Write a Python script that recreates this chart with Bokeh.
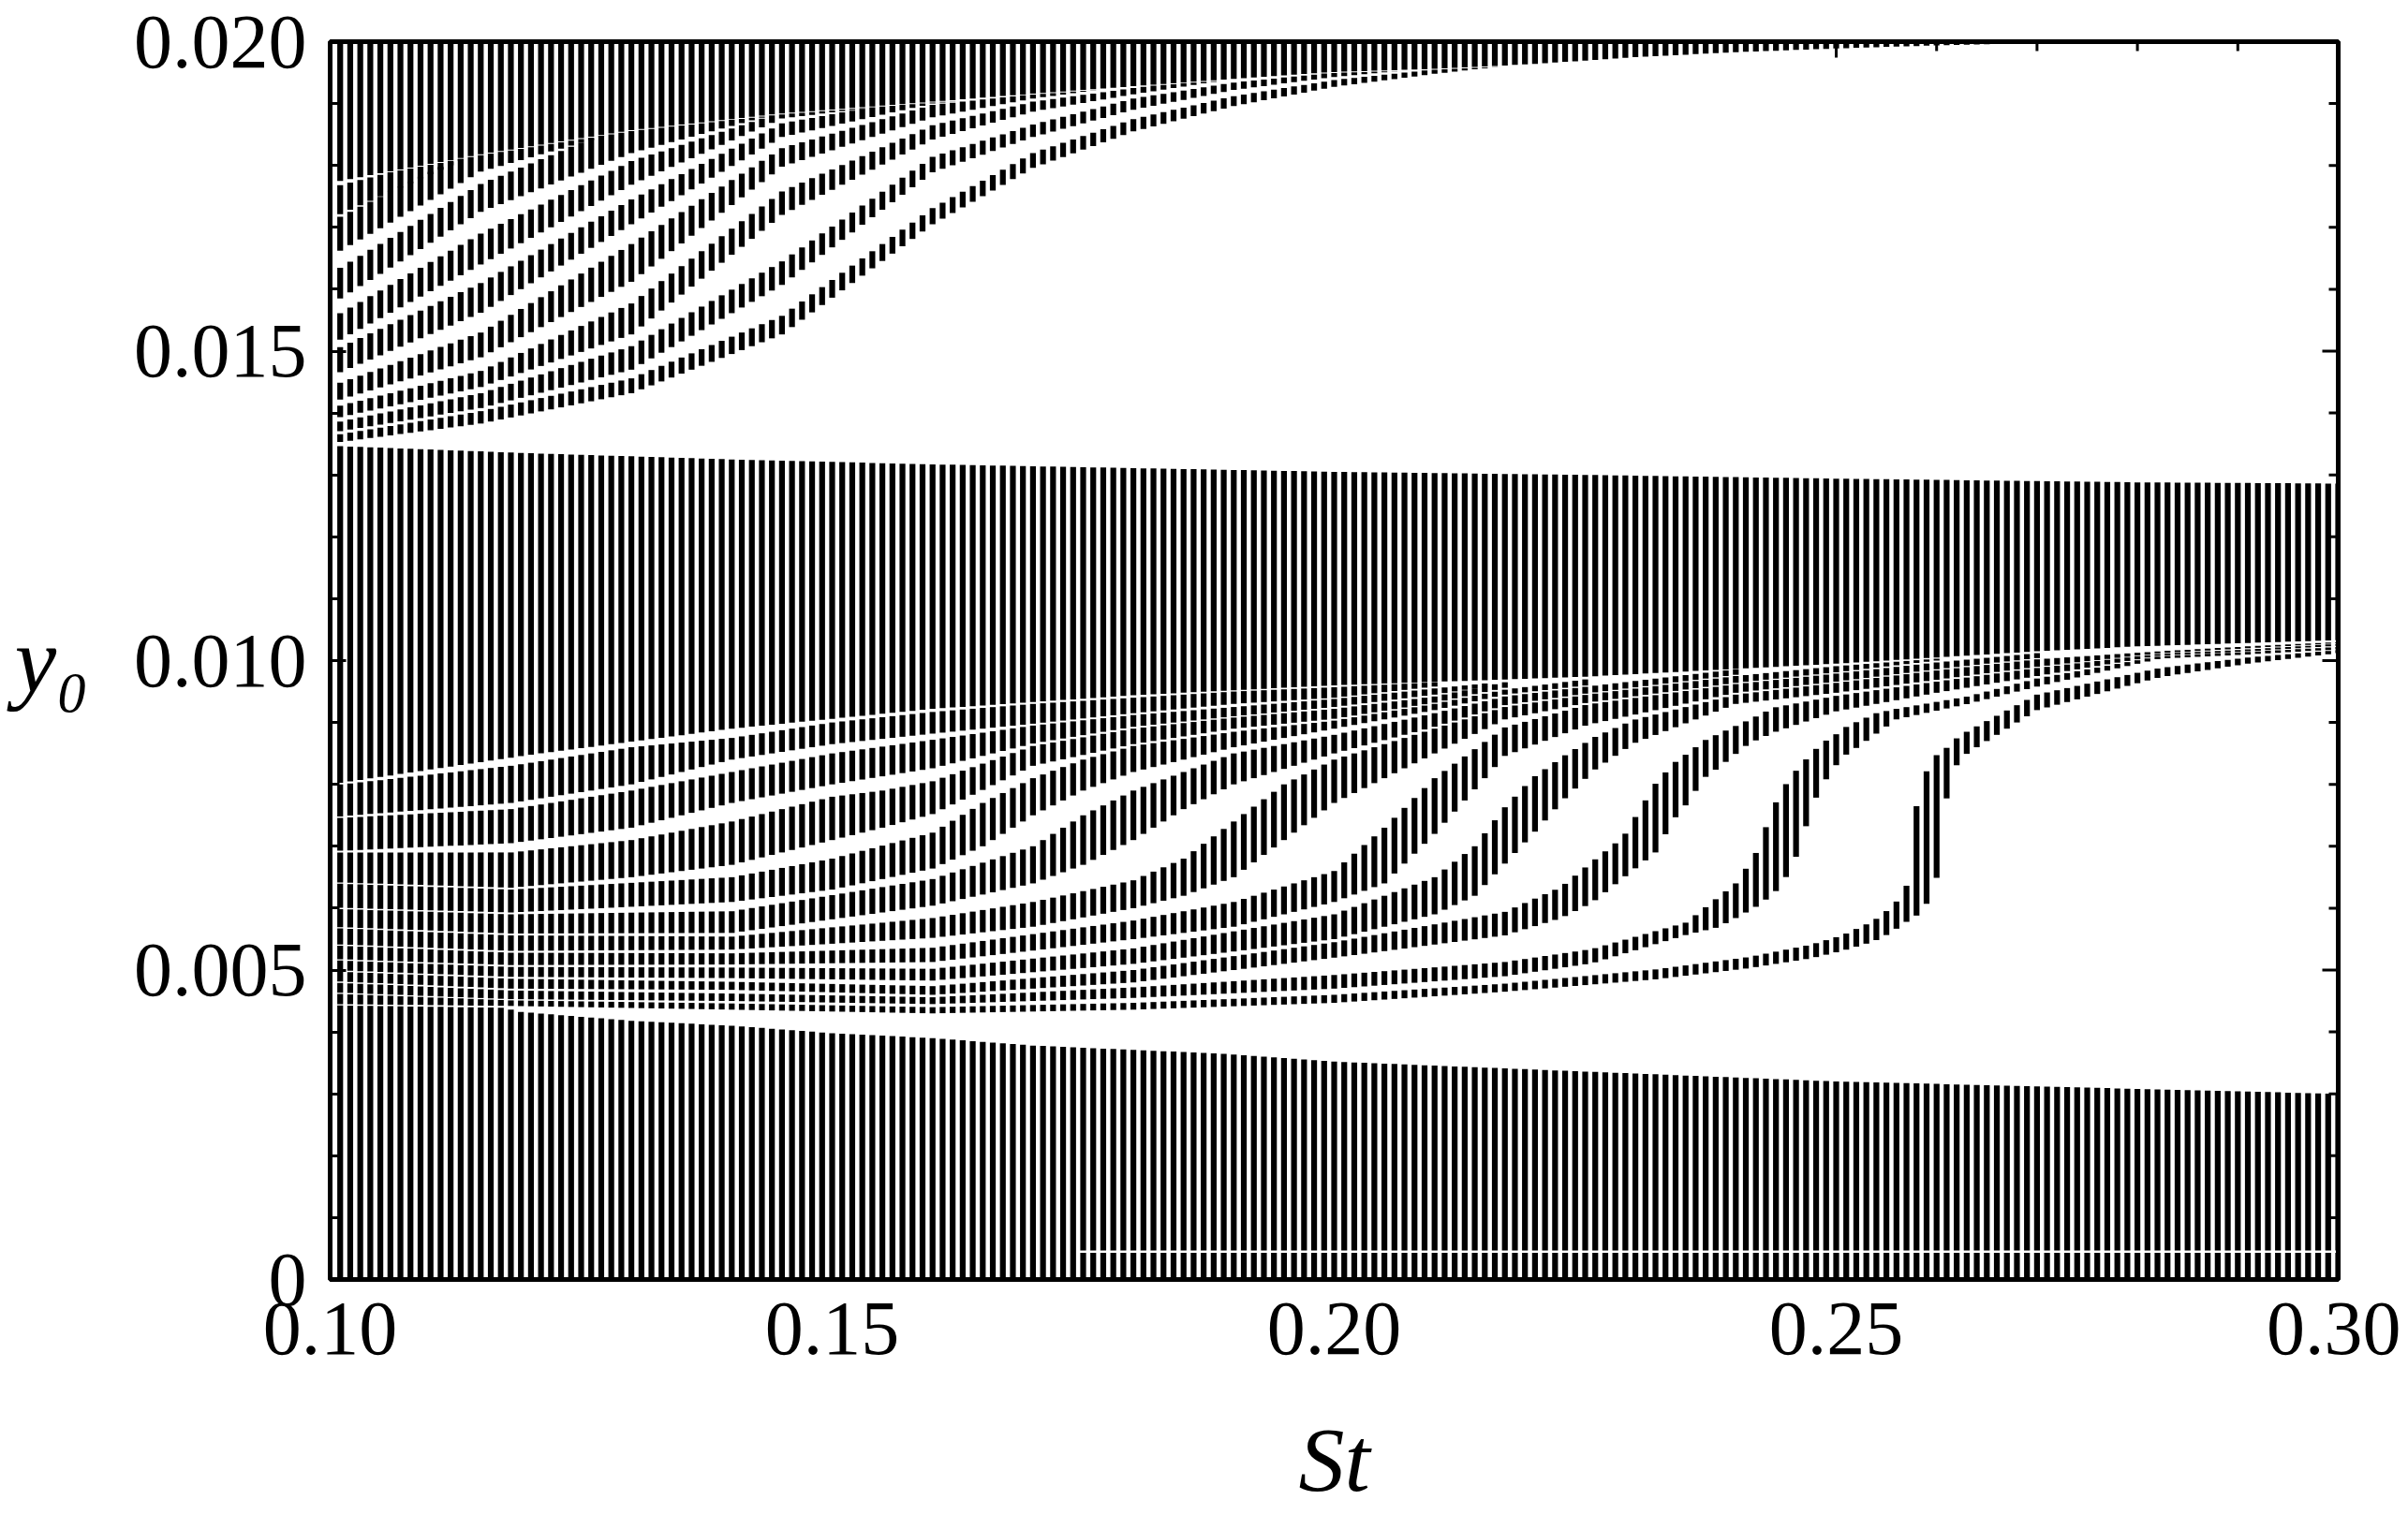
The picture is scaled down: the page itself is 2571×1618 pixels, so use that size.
import numpy as np
from bokeh.plotting import figure
from bokeh.models import Range1d, FixedTicker, LinearAxis, ColumnDataSource
from bokeh.embed import file_html
from bokeh.resources import INLINE

# ---------------- axis ticks ----------------
X_TICKS = [0.10, 0.15, 0.20, 0.25, 0.30]
X_TICK_LABELS = ["0.10", "0.15", "0.20", "0.25", "0.30"]
Y_TICKS = [0.0, 0.005, 0.010, 0.015, 0.020]
Y_TICK_LABELS = ["0", "0.005", "0.010", "0.015", "0.020"]
X_MINOR = [0.11, 0.12, 0.13, 0.14, 0.16, 0.17, 0.18, 0.19, 0.21, 0.22, 0.23, 0.24, 0.26, 0.27, 0.28, 0.29]
Y_MINOR = [0.001, 0.002, 0.003, 0.004, 0.006, 0.007, 0.008, 0.009, 0.011, 0.012, 0.013, 0.014,
           0.016, 0.017, 0.018, 0.019]

# St values of the computed columns
ST_FIRST, ST_LAST = 0.101, 0.300

# ---------------- top region (y0 > 0.0135) ----------------
TB_st = [0.100, 0.115, 0.130, 0.145, 0.160, 0.170, 0.180, 0.190, 0.200, 0.210, 0.220, 0.230, 0.240, 0.250, 0.260, 0.265, 0.2655]
TB_lo = [0.01772, 0.01818, 0.01857, 0.01884, 0.01903, 0.01916, 0.01928, 0.01940, 0.01951, 0.01956, 0.01964, 0.01975, 0.01983, 0.01989, 0.01994, 0.01996, 0.01997]

T1_st = [0.100, 0.115, 0.130, 0.145, 0.160, 0.170, 0.180, 0.190, 0.200, 0.210, 0.220]
T1_lo = [0.01351, 0.01383, 0.01432, 0.01527, 0.01705, 0.01796, 0.01855, 0.01896, 0.01927, 0.01948, 0.01966]
T1_hi = [0.01363, 0.01403, 0.01456, 0.01557, 0.01731, 0.01820, 0.01875, 0.01912, 0.01938, 0.01955, 0.01970]

T2_st = [0.100, 0.115, 0.130, 0.145, 0.160, 0.170, 0.180, 0.190, 0.200, 0.210]
T2_lo = [0.01368, 0.01408, 0.01470, 0.01607, 0.01789, 0.01846, 0.01890, 0.01922, 0.01943, 0.01958]
T2_hi = [0.01383, 0.01432, 0.01508, 0.01645, 0.01814, 0.01866, 0.01908, 0.01934, 0.01950, 0.01962]

T3_st = [0.100, 0.115, 0.130, 0.145, 0.160, 0.170, 0.180, 0.190, 0.200]
T3_lo = [0.01390, 0.01442, 0.01527, 0.01720, 0.01842, 0.01887, 0.01915, 0.01940, 0.01953]
T3_hi = [0.01408, 0.01468, 0.01577, 0.01758, 0.01865, 0.01903, 0.01925, 0.01946, 0.01956]

T4_st = [0.100, 0.115, 0.130, 0.145, 0.160, 0.170, 0.180]
T4_lo = [0.01417, 0.01490, 0.01612, 0.01798, 0.01878, 0.01908, 0.01930]
T4_hi = [0.01443, 0.01530, 0.01673, 0.01828, 0.01898, 0.01915, 0.01934]

T5_st = [0.100, 0.115, 0.130, 0.145, 0.160, 0.170]
T5_lo = [0.01459, 0.01562, 0.01705, 0.01846, 0.01900, 0.01918]
T5_hi = [0.01499, 0.01610, 0.01745, 0.01868, 0.01912, 0.01922]

T6_st = [0.100, 0.115, 0.130, 0.145, 0.160]
T6_lo = [0.01510, 0.01640, 0.01769, 0.01876, 0.01905]
T6_hi = [0.01552, 0.01690, 0.01807, 0.01886, 0.01910]

T7_st = [0.100, 0.115, 0.130, 0.145]
T7_lo = [0.01575, 0.01725, 0.01820, 0.01886]
T7_hi = [0.01625, 0.01770, 0.01870, 0.01890]

T8_st = [0.100, 0.115, 0.130]
T8_lo = [0.01653, 0.01790, 0.01860]
T8_hi = [0.01709, 0.01830, 0.01864]

T9_st = [0.100, 0.115]
T9_lo = [0.01714, 0.01822]
T9_hi = [0.01764, 0.01826]

# ---------------- middle region ----------------
M0_st = [0.100, 0.120, 0.140, 0.160, 0.180, 0.200, 0.225, 0.250, 0.270, 0.280, 0.300]
M0_lo = [0.00800, 0.00848, 0.00890, 0.00922, 0.00944, 0.00960, 0.00974, 0.00995, 0.01015, 0.01023, 0.01033]
M0_hi = [0.01347, 0.01335, 0.01325, 0.01317, 0.01311, 0.01305, 0.01300, 0.01294, 0.01290, 0.01288, 0.01286]

M1_st = [0.100, 0.118, 0.130, 0.140, 0.150, 0.160, 0.170, 0.180, 0.190, 0.200, 0.210]
M1_lo = [0.00747, 0.00770, 0.00800, 0.00840, 0.00865, 0.00882, 0.00898, 0.00915, 0.00930, 0.00940, 0.00958]
M1_hi = [0.00798, 0.00830, 0.00860, 0.00875, 0.00900, 0.00917, 0.00930, 0.00940, 0.00950, 0.00957, 0.00965]

M2_st = [0.100, 0.118, 0.130, 0.140, 0.150, 0.160, 0.170, 0.180, 0.190, 0.200, 0.210, 0.215]
M2_lo = [0.00692, 0.00705, 0.00730, 0.00770, 0.00800, 0.00826, 0.00866, 0.00893, 0.00910, 0.00925, 0.00945, 0.00958]
M2_hi = [0.00745, 0.00760, 0.00790, 0.00820, 0.00850, 0.00872, 0.00895, 0.00912, 0.00925, 0.00938, 0.00955, 0.00963]

M3_st = [0.100, 0.118, 0.130, 0.140, 0.150, 0.155, 0.160, 0.170, 0.180, 0.190, 0.200, 0.210, 0.217]
M3_lo = [0.00642, 0.00633, 0.00650, 0.00670, 0.00710, 0.00730, 0.00752, 0.00830, 0.00865, 0.00890, 0.00906, 0.00932, 0.00956]
M3_hi = [0.00690, 0.00690, 0.00710, 0.00740, 0.00780, 0.00790, 0.00805, 0.00862, 0.00890, 0.00908, 0.00922, 0.00942, 0.00965]

M4_st = [0.100, 0.118, 0.140, 0.150, 0.160, 0.165, 0.170, 0.175, 0.180, 0.190, 0.200, 0.210, 0.217, 0.2252]
M4_lo = [0.00601, 0.00593, 0.00610, 0.00630, 0.00664, 0.00700, 0.00750, 0.00790, 0.00820, 0.00860, 0.00890, 0.00920, 0.00945, 0.00960]
M4_hi = [0.00640, 0.00630, 0.00650, 0.00680, 0.00722, 0.00770, 0.00810, 0.00840, 0.00862, 0.00885, 0.00903, 0.00930, 0.00953, 0.00970]

M5_st = [0.100, 0.118, 0.140, 0.160, 0.170, 0.175, 0.180, 0.185, 0.190, 0.200, 0.210, 0.217, 0.2252, 0.240]
M5_lo = [0.00570, 0.00559, 0.00560, 0.00604, 0.00640, 0.00670, 0.00710, 0.00760, 0.00800, 0.00850, 0.00893, 0.00928, 0.00947, 0.00977]
M5_hi = [0.00599, 0.00590, 0.00595, 0.00647, 0.00700, 0.00750, 0.00790, 0.00820, 0.00850, 0.00880, 0.00915, 0.00942, 0.00958, 0.00986]

M6_st = [0.100, 0.118, 0.140, 0.160, 0.170, 0.180, 0.185, 0.190, 0.195, 0.200, 0.210, 0.217, 0.2252, 0.240, 0.250, 0.260]
M6_lo = [0.00542, 0.00531, 0.00533, 0.00552, 0.00570, 0.00600, 0.00620, 0.00650, 0.00710, 0.00770, 0.00850, 0.00905, 0.00932, 0.00964, 0.00981, 0.01000]
M6_hi = [0.00568, 0.00556, 0.00554, 0.00584, 0.00610, 0.00645, 0.00680, 0.00740, 0.00800, 0.00840, 0.00890, 0.00925, 0.00945, 0.00975, 0.00991, 0.01003]

M7_st = [0.100, 0.118, 0.140, 0.160, 0.180, 0.190, 0.200, 0.205, 0.210, 0.217, 0.2252, 0.240, 0.250, 0.260, 0.270]
M7_lo = [0.00518, 0.00508, 0.00509, 0.00513, 0.00550, 0.00570, 0.00610, 0.00640, 0.00720, 0.00846, 0.00896, 0.00948, 0.00966, 0.00986, 0.01004]
M7_hi = [0.00540, 0.00528, 0.00527, 0.00536, 0.00580, 0.00610, 0.00660, 0.00730, 0.00810, 0.00892, 0.00929, 0.00962, 0.00979, 0.00997, 0.01012]

M8_st = [0.100, 0.118, 0.140, 0.160, 0.180, 0.200, 0.210, 0.214, 0.217, 0.2198, 0.2229, 0.2259, 0.2298, 0.240, 0.250, 0.260, 0.270, 0.2822, 0.291, 0.300]
M8_lo = [0.00500, 0.00489, 0.00487, 0.00483, 0.00510, 0.00550, 0.00590, 0.00620, 0.00672, 0.00720, 0.00776, 0.00823, 0.00866, 0.00930, 0.00948, 0.00969, 0.00990, 0.01012, 0.01020, 0.01028]
M8_hi = [0.00516, 0.00505, 0.00504, 0.00502, 0.00535, 0.00590, 0.00650, 0.00700, 0.00763, 0.00811, 0.00846, 0.00876, 0.00904, 0.00945, 0.00964, 0.00984, 0.01002, 0.01015, 0.01023, 0.01030]

M9_st = [0.100, 0.118, 0.140, 0.160, 0.180, 0.200, 0.217, 0.2226, 0.2257, 0.2288, 0.2320, 0.2338, 0.2351, 0.2369, 0.2382, 0.2413, 0.2438, 0.250, 0.260, 0.270, 0.2822, 0.291, 0.300]
M9_lo = [0.00482, 0.00470, 0.00468, 0.00460, 0.00480, 0.00520, 0.00556, 0.00584, 0.00609, 0.00649, 0.00690, 0.00743, 0.00768, 0.00811, 0.00826, 0.00866, 0.00884, 0.00918, 0.00948, 0.00975, 0.01008, 0.01015, 0.01024]
M9_hi = [0.00498, 0.00486, 0.00481, 0.00474, 0.00500, 0.00545, 0.00594, 0.00634, 0.00675, 0.00715, 0.00801, 0.00834, 0.00849, 0.00871, 0.00881, 0.00904, 0.00924, 0.00943, 0.00966, 0.00988, 0.01011, 0.01018, 0.01027]

M10_st = [0.100, 0.118, 0.140, 0.160, 0.180, 0.200, 0.217, 0.2257, 0.2351, 0.2382, 0.2400, 0.2419, 0.2431, 0.2441, 0.2452, 0.2462, 0.2472, 0.2481, 0.2491, 0.2500, 0.2509, 0.2522, 0.2540, 0.2560, 0.2631, 0.270, 0.2822, 0.291, 0.300]
M10_lo = [0.00464, 0.00453, 0.00450, 0.00445, 0.00455, 0.00470, 0.00490, 0.00511, 0.00557, 0.00569, 0.00584, 0.00601, 0.00615, 0.00629, 0.00655, 0.00690, 0.00743, 0.00783, 0.00811, 0.00831, 0.00847, 0.00861, 0.00882, 0.00905, 0.00930, 0.00958, 0.01003, 0.01010, 0.01018]
M10_hi = [0.00480, 0.00467, 0.00462, 0.00456, 0.00472, 0.00492, 0.00513, 0.00534, 0.00577, 0.00617, 0.00640, 0.00685, 0.00735, 0.00775, 0.00806, 0.00826, 0.00844, 0.00859, 0.00872, 0.00881, 0.00892, 0.00902, 0.00915, 0.00922, 0.00942, 0.00971, 0.01007, 0.01014, 0.01022]

M11_st = [0.100, 0.118, 0.140, 0.160, 0.180, 0.200, 0.217, 0.232, 0.2413, 0.2475, 0.2506, 0.2537, 0.2553, 0.2562, 0.2571, 0.2576, 0.2581, 0.2590, 0.2599, 0.2606, 0.2612, 0.2621, 0.2631, 0.270, 0.2822, 0.291, 0.300]
M11_lo = [0.00445, 0.00442, 0.00436, 0.00430, 0.00436, 0.00447, 0.00465, 0.00485, 0.00503, 0.00519, 0.00531, 0.00546, 0.00559, 0.00569, 0.00579, 0.00584, 0.00589, 0.00607, 0.00637, 0.00720, 0.00806, 0.00834, 0.00851, 0.00920, 0.00973, 0.00995, 0.01012]
M11_hi = [0.00462, 0.00451, 0.00446, 0.00440, 0.00447, 0.00460, 0.00478, 0.00501, 0.00521, 0.00541, 0.00556, 0.00579, 0.00599, 0.00614, 0.00639, 0.00720, 0.00776, 0.00821, 0.00846, 0.00855, 0.00861, 0.00876, 0.00886, 0.00945, 0.00988, 0.01005, 0.01017]

# ---------------- bottom band ----------------
BB_st = [0.100, 0.1175, 0.1185, 0.130, 0.140, 0.150, 0.160, 0.170, 0.1886, 0.200, 0.250, 0.300]
BB_hi = [0.00443, 0.00439, 0.00433, 0.00418, 0.00410, 0.00398, 0.00390, 0.00378, 0.00365, 0.00352, 0.00320, 0.00300]
BB_GAP_START = 0.175          # thin white line inside the bottom band
BB_GAP_LO, BB_GAP_HI = 0.00043, 0.00047

# ---------------- build the columns ----------------
st_cols = np.round(np.arange(int(round(ST_FIRST * 1000)), int(round(ST_LAST * 1000)) + 1) / 1000.0, 3)


def ip(st, v):
    return np.interp(st_cols, st, v, left=np.nan, right=np.nan)


xs, bots, tops = [], [], []


def add(L, H):
    ok = np.isfinite(L) & np.isfinite(H) & (H > L)
    xs.extend(st_cols[ok].tolist())
    bots.extend(L[ok].tolist())
    tops.extend(H[ok].tolist())


HAIR = 1.5e-5
tb_lo = ip(TB_st, TB_lo)
add(tb_lo, np.where(np.isfinite(tb_lo), 0.020, np.nan))

for st, lo, hi in [(T1_st, T1_lo, T1_hi), (T2_st, T2_lo, T2_hi), (T3_st, T3_lo, T3_hi),
                   (T4_st, T4_lo, T4_hi), (T5_st, T5_lo, T5_hi), (T6_st, T6_lo, T6_hi),
                   (T7_st, T7_lo, T7_hi), (T8_st, T8_lo, T8_hi), (T9_st, T9_lo, T9_hi)]:
    L, H = ip(st, lo), ip(st, hi)
    H = np.where(np.isfinite(tb_lo), np.minimum(H, tb_lo - HAIR), H)
    add(L, H)

for st, lo, hi in [(M0_st, M0_lo, M0_hi), (M1_st, M1_lo, M1_hi), (M2_st, M2_lo, M2_hi),
                   (M3_st, M3_lo, M3_hi), (M4_st, M4_lo, M4_hi), (M5_st, M5_lo, M5_hi),
                   (M6_st, M6_lo, M6_hi), (M7_st, M7_lo, M7_hi), (M8_st, M8_lo, M8_hi),
                   (M9_st, M9_lo, M9_hi), (M10_st, M10_lo, M10_hi), (M11_st, M11_lo, M11_hi)]:
    add(ip(st, lo), ip(st, hi))

bb = ip(BB_st, BB_hi)
split = st_cols >= BB_GAP_START - 1e-9
add(np.zeros_like(bb), np.where(split, BB_GAP_LO, bb))
add(np.where(split, BB_GAP_HI, np.nan), np.where(split, bb, np.nan))

BAR_W = 0.00058
xs = np.array(xs)
src = ColumnDataSource(dict(left=xs - BAR_W / 2, right=xs + BAR_W / 2, bottom=bots, top=tops))

# ---------------- figure ----------------
FONT = "Liberation Serif"
FRAME_W, FRAME_H = 2144, 1322
p = figure(frame_width=FRAME_W, frame_height=FRAME_H,
           x_range=Range1d(0.1, 0.3), y_range=Range1d(0.0, 0.02),
           output_backend="svg", toolbar_location=None,
           min_border_left=352, min_border_right=67, min_border_top=44, min_border_bottom=250,
           x_axis_location=None, y_axis_location=None)
p.xgrid.visible = False
p.ygrid.visible = False
p.outline_line_color = "black"
p.outline_line_width = 5
p.background_fill_color = "white"
p.border_fill_color = "white"

p.quad(left="left", right="right", bottom="bottom", top="top", source=src,
       fill_color="black", line_color=None)


def make_axis(ticks, minor, labels):
    ax = LinearAxis(ticker=FixedTicker(ticks=ticks, minor_ticks=minor))
    ax.axis_line_color = None
    ax.major_tick_in = 17
    ax.major_tick_out = 0
    ax.minor_tick_in = 10
    ax.minor_tick_out = 0
    ax.major_tick_line_width = 3
    ax.minor_tick_line_width = 3
    ax.major_label_overrides = {t: s for t, s in zip(ticks, labels)}
    ax.major_label_text_font = FONT
    ax.major_label_text_font_size = "82px"
    ax.major_label_text_color = "black"
    return ax


ax_b = make_axis(X_TICKS, X_MINOR, X_TICK_LABELS)
ax_b.major_label_standoff = 25
ax_b.axis_label = "St"
ax_b.axis_label_text_font = FONT
ax_b.axis_label_text_font_style = "italic"
ax_b.axis_label_text_font_size = "98px"
ax_b.axis_label_text_color = "black"
ax_b.axis_label_standoff = 56

ax_l = make_axis(Y_TICKS, Y_MINOR, Y_TICK_LABELS)
ax_l.major_label_standoff = 25
ax_l.axis_label = "y\u2080"
ax_l.axis_label_orientation = "horizontal"
ax_l.axis_label_text_font = FONT
ax_l.axis_label_text_font_style = "italic"
ax_l.axis_label_text_font_size = "100px"
ax_l.axis_label_text_color = "black"
ax_l.axis_label_standoff = 45

p.add_layout(ax_b, "below")
p.add_layout(ax_l, "left")

# inward tick marks of the top and right frame edges (mirroring the bottom / left axes)
XPX = 0.2 / FRAME_W     # one pixel in St units
YPX = 0.02 / FRAME_H    # one pixel in y0 units
top_x = X_TICKS + X_MINOR
top_len = [17 * YPX] * len(X_TICKS) + [10 * YPX] * len(X_MINOR)
p.segment(x0=top_x, x1=top_x, y0=[0.02] * len(top_x), y1=[0.02 - l for l in top_len],
          line_color="black", line_width=3)
right_y = Y_TICKS + Y_MINOR
right_len = [17 * XPX] * len(Y_TICKS) + [10 * XPX] * len(Y_MINOR)
p.segment(x0=[0.3] * len(right_y), x1=[0.3 - l for l in right_len], y0=right_y, y1=right_y,
          line_color="black", line_width=3)

open("out.html", "w").write(file_html(p, INLINE))
